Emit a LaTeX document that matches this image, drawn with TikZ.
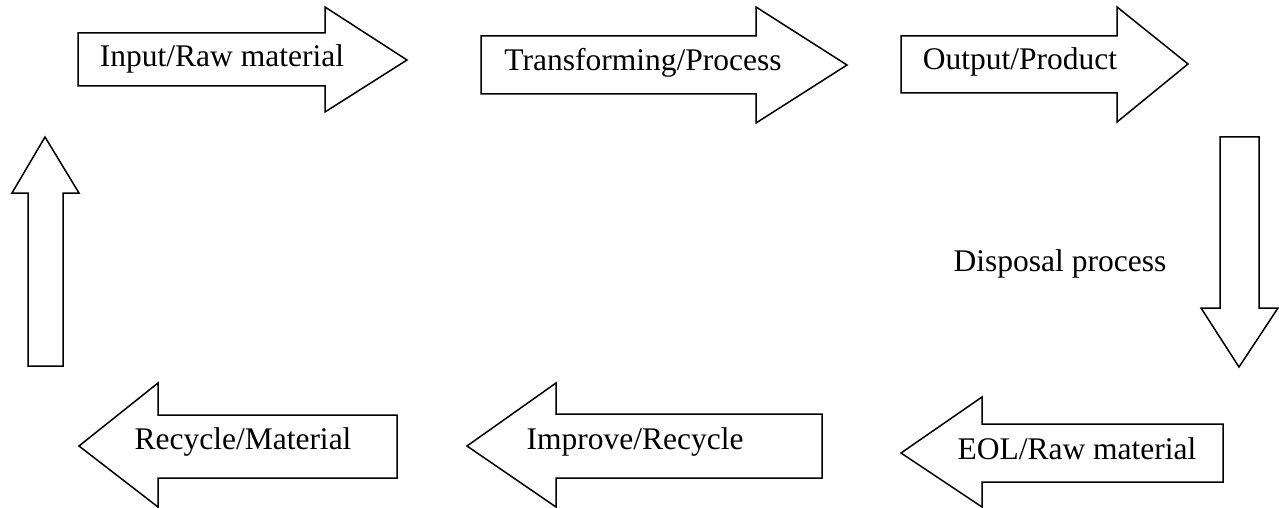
\documentclass[tikz,border=0pt]{standalone}
\usepackage{fontspec}
\setmainfont{Liberation Serif}

\tikzset{
  blockarrow/.style={draw, line width=1.5pt, line join=miter, fill=white},
  steptext/.style={font=\fontsize{31.5}{38}\selectfont, anchor=base, inner sep=0pt}
}

\begin{document}
\begin{tikzpicture}[x=1pt, y=-1pt]
    \useasboundingbox (0,0) rectangle (1279,508);
    % arrows of the top row, pointing right
    \draw[blockarrow] (78,33) -- (325,33) -- (325,7) -- (407,60) -- (325,112) -- (325,86) -- (78,86) -- cycle;
    \draw[blockarrow] (481,36) -- (756,36) -- (756,7) -- (847,65) -- (756,123) -- (756,94) -- (481,94) -- cycle;
    \draw[blockarrow] (901,36) -- (1117,36) -- (1117,7) -- (1188,64) -- (1117,122) -- (1117,93) -- (901,93) -- cycle;
    % arrow on the right, pointing down
    \draw[blockarrow] (1220,137) -- (1259,137) -- (1259,308) -- (1278,308) -- (1239,367) -- (1201,308) -- (1220,308) -- cycle;
    % arrows of the bottom row, pointing left
    \draw[blockarrow] (1223,424) -- (982,424) -- (982,397) -- (901,453) -- (982,507) -- (982,482) -- (1223,482) -- cycle;
    \draw[blockarrow] (822,414) -- (556,414) -- (556,383) -- (467,446) -- (556,507) -- (556,478) -- (822,478) -- cycle;
    \draw[blockarrow] (397,415) -- (158,415) -- (158,383) -- (79,446) -- (158,507) -- (158,478) -- (397,478) -- cycle;
    % arrow on the left, pointing up
    \draw[blockarrow] (28,366) -- (28,193) -- (12,193) -- (45,137) -- (79,193) -- (63,193) -- (63,366) -- cycle;
    % the texts
    \node[steptext] (input) at (222,67) {Input/Raw material};
    \node[steptext] (transform) at (643,71) {Transforming/Process};
    \node[steptext] (output) at (1020,70) {Output/Product};
    \node[steptext] (disposal) at (1060,271) {Disposal process};
    \node[steptext] (eol) at (1077,459) {EOL/Raw material};
    \node[steptext] (improve) at (635,449) {Improve/Recycle};
    \node[steptext] (recycle) at (243,449) {Recycle/Material};
\end{tikzpicture}
\end{document}
